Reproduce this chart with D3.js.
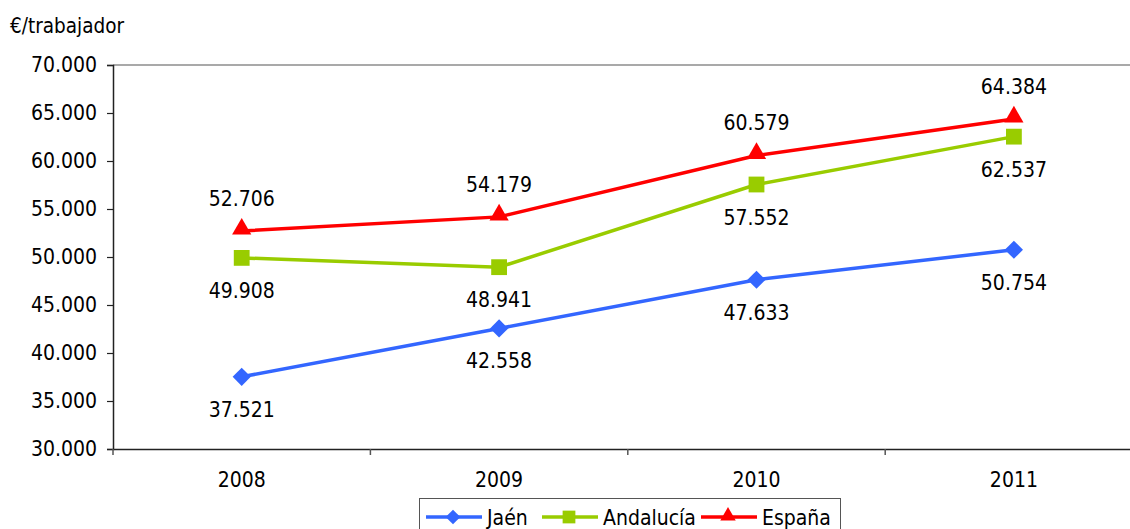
<!DOCTYPE html>
<html><head><meta charset="utf-8">
<script src="https://cdn.jsdelivr.net/npm/d3@7"></script>
<style>
html,body{margin:0;padding:0;background:#fff;overflow:hidden;}
svg{display:block;}
text{font-family:'DejaVu Sans Condensed','DejaVu Sans',sans-serif;font-stretch:condensed;fill:#000;}
</style></head><body>
<svg id="chart" width="1130" height="529"></svg>
<script>
const years = ["2008", "2009", "2010", "2011"];
const jaen = [37521, 42558, 47633, 50754];
const andalucia = [49908, 48941, 57552, 62537];
const espana = [52706, 54179, 60579, 64384];
const seriesNames = ["Jaén", "Andalucía", "España"];
const yTicks = [30000, 35000, 40000, 45000, 50000, 55000, 60000, 65000, 70000];
const yTitle = "€/trabajador";

const series = [
  {name: seriesNames[0], values: jaen, color: "#3366FF", marker: "diamond", labelPos: "below"},
  {name: seriesNames[1], values: andalucia, color: "#99CC00", marker: "square", labelPos: "below"},
  {name: seriesNames[2], values: espana, color: "#FF0000", marker: "triangle", labelPos: "above"}
];

const svg = d3.select("#chart");
const mLeft = 113, mRight = 1142.6, mTop = 65, mBottom = 449;
const x = d3.scaleBand().domain(years).range([mLeft, mRight]).padding(0);
const y = d3.scaleLinear().domain([30000, 70000]).range([mBottom, mTop]);
const loc = d3.formatLocale({decimal: ",", thousands: ".", grouping: [3], currency: ["", "€"]});
const fmt = loc.format(",.0f");
const cx = d => x(d) + x.bandwidth() / 2;

// top border
svg.append("line").attr("x1", mLeft).attr("x2", mRight).attr("y1", mTop).attr("y2", mTop)
  .attr("stroke", "#8c8c8c").attr("stroke-width", 1.5);

// y axis
const yAxis = svg.append("g").attr("transform", `translate(${mLeft},0)`)
  .call(d3.axisLeft(y).tickValues(yTicks).tickFormat(fmt).tickSize(6).tickPadding(10));
yAxis.select(".domain").attr("stroke", "#222").attr("stroke-width", 1.5);
yAxis.selectAll(".tick line").attr("stroke", "#222").attr("stroke-width", 1.2);
yAxis.selectAll(".tick text").attr("font-size", 21).attr("font-family", null).attr("fill", "#000");

// x axis
const xAxis = svg.append("g").attr("transform", `translate(0,${mBottom})`)
  .call(d3.axisBottom(x).tickSize(0).tickPadding(23));
xAxis.select(".domain").attr("stroke", "#222").attr("stroke-width", 1.5);
xAxis.selectAll(".tick text").attr("font-size", 21).attr("font-family", null).attr("fill", "#000");
xAxis.selectAll(".bound").data(years.map(d => x(d)).concat([mRight])).enter().append("line")
  .attr("class", "bound").attr("x1", d => d).attr("x2", d => d).attr("y1", 0).attr("y2", 6)
  .attr("stroke", "#555").attr("stroke-width", 1.5);

// y title
svg.append("text").attr("x", 10).attr("y", 33).attr("font-size", 20.5).text(yTitle);

const symbolFor = (m, k) => m === "diamond" ? d3.symbol().type(d3.symbolSquare).size(165 * k)
  : m === "square" ? d3.symbol().type(d3.symbolSquare).size(250 * k)
  : d3.symbol().type(d3.symbolTriangle).size(160 * k);
const rot = m => m === "diamond" ? " rotate(45)" : "";
const dy = m => m === "triangle" ? -2 : 0;

const line = d3.line().x((d, i) => cx(years[i])).y(d => y(d));

series.forEach(s => {
  const g = svg.append("g");
  g.append("path").datum(s.values).attr("d", line).attr("fill", "none")
    .attr("stroke", s.color).attr("stroke-width", 3.5);
  g.selectAll("path.m").data(s.values).enter().append("path").attr("class", "m")
    .attr("d", symbolFor(s.marker, 1))
    .attr("transform", (d, i) => `translate(${cx(years[i])},${y(d) + dy(s.marker)})${rot(s.marker)}`)
    .attr("fill", s.color);
  g.selectAll("text").data(s.values).enter().append("text")
    .attr("x", (d, i) => cx(years[i]))
    .attr("y", d => y(d) + (s.labelPos === "above" ? -25 : 40))
    .attr("text-anchor", "middle").attr("font-size", 21).text(d => fmt(d));
});

// legend
const lg = svg.append("g");
lg.append("rect").attr("x", 419.5).attr("y", 498.5).attr("width", 421).attr("height", 40)
  .attr("fill", "#fff").attr("stroke", "#555").attr("stroke-width", 1);
const legendX = [426, 542, 701];
series.forEach((s, i) => {
  const lx = legendX[i];
  lg.append("line").attr("x1", lx).attr("x2", lx + 56).attr("y1", 517).attr("y2", 517)
    .attr("stroke", s.color).attr("stroke-width", 3.5);
  lg.append("path").attr("d", symbolFor(s.marker, 0.65))
    .attr("transform", `translate(${lx + 27},${517 + (s.marker === "triangle" ? -1 : 0)})${rot(s.marker)}`).attr("fill", s.color);
  lg.append("text").attr("x", lx + 61).attr("y", 525).attr("font-size", 21).text(s.name);
});
</script></body></html>
